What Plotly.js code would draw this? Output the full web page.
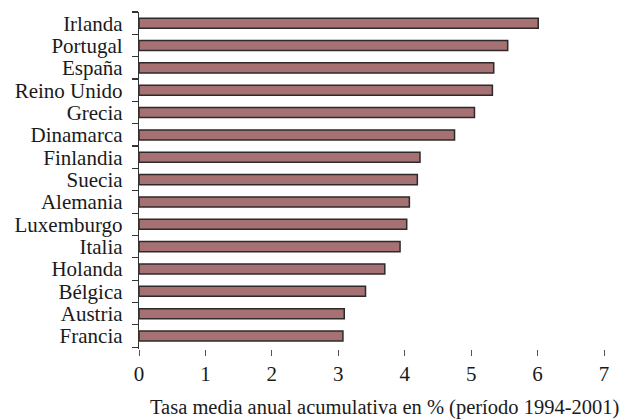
<!DOCTYPE html>
<html>
<head>
<meta charset="utf-8">
<script src="https://cdn.plot.ly/plotly-3.0.1.min.js"></script>
<style>html,body{margin:0;padding:0;background:#fff;}#chart{width:626px;height:419px;}</style>
</head>
<body>
<div id="chart"></div>
<script>
// Ordered bottom to top
var countries = ["Francia","Austria","Bélgica","Holanda","Italia","Luxemburgo","Alemania","Suecia","Finlandia","Dinamarca","Grecia","Reino Unido","España","Portugal","Irlanda"];
var rates = [3.07,3.09,3.41,3.70,3.93,4.03,4.07,4.19,4.23,4.75,5.05,5.32,5.34,5.55,6.01];
var xTicks = [0,1,2,3,4,5,6,7];
var xTitle = "Tasa media anual acumulativa en % (período 1994-2001)";

var font = "'Liberation Serif', 'Times New Roman', serif";

var trace = {
  type: "bar",
  orientation: "h",
  x: rates,
  y: countries,
  width: 0.45,
  marker: {color: "#a57173", line: {color: "#2e2a2a", width: 1.5}},
  hoverinfo: "x+y"
};

var layout = {
  width: 626, height: 419,
  margin: {l: 139, r: 22, t: 12, b: 70},
  paper_bgcolor: "#fff", plot_bgcolor: "#fff",
  showlegend: false,
  font: {family: font, size: 21, color: "#1a1a1a"},
  xaxis: {
    range: [0, 7], tickmode: "array", tickvals: xTicks, ticktext: xTicks.map(String),
    showgrid: false, zeroline: false, showline: false,
    ticks: "outside", ticklen: 6, tickwidth: 1, tickcolor: "#555",
    tickfont: {family: font, size: 21, color: "#1a1a1a"}
  },
  yaxis: {
    type: "category", categoryorder: "array", categoryarray: countries,
    tickmode: "array", tickvals: countries, ticktext: countries,
    range: [-0.58, 14.5],
    showgrid: false, zeroline: false, showline: true, linecolor: "#333", linewidth: 1.2,
    ticks: "outside", tickson: "boundaries", ticklen: 6, tickwidth: 1.2, tickcolor: "#333",
    ticklabelstandoff: 11,
    tickfont: {family: font, size: 21, color: "#1a1a1a"}
  },
  annotations: [{
    text: xTitle, xref: "paper", yref: "paper", x: 1.036, y: 0,
    xanchor: "right", yanchor: "top", yshift: -45, showarrow: false,
    font: {family: font, size: 20.5, color: "#1a1a1a"}
  }]
};

Plotly.newPlot("chart", [trace], layout, {displayModeBar: false, staticPlot: true});
</script>
</body>
</html>
